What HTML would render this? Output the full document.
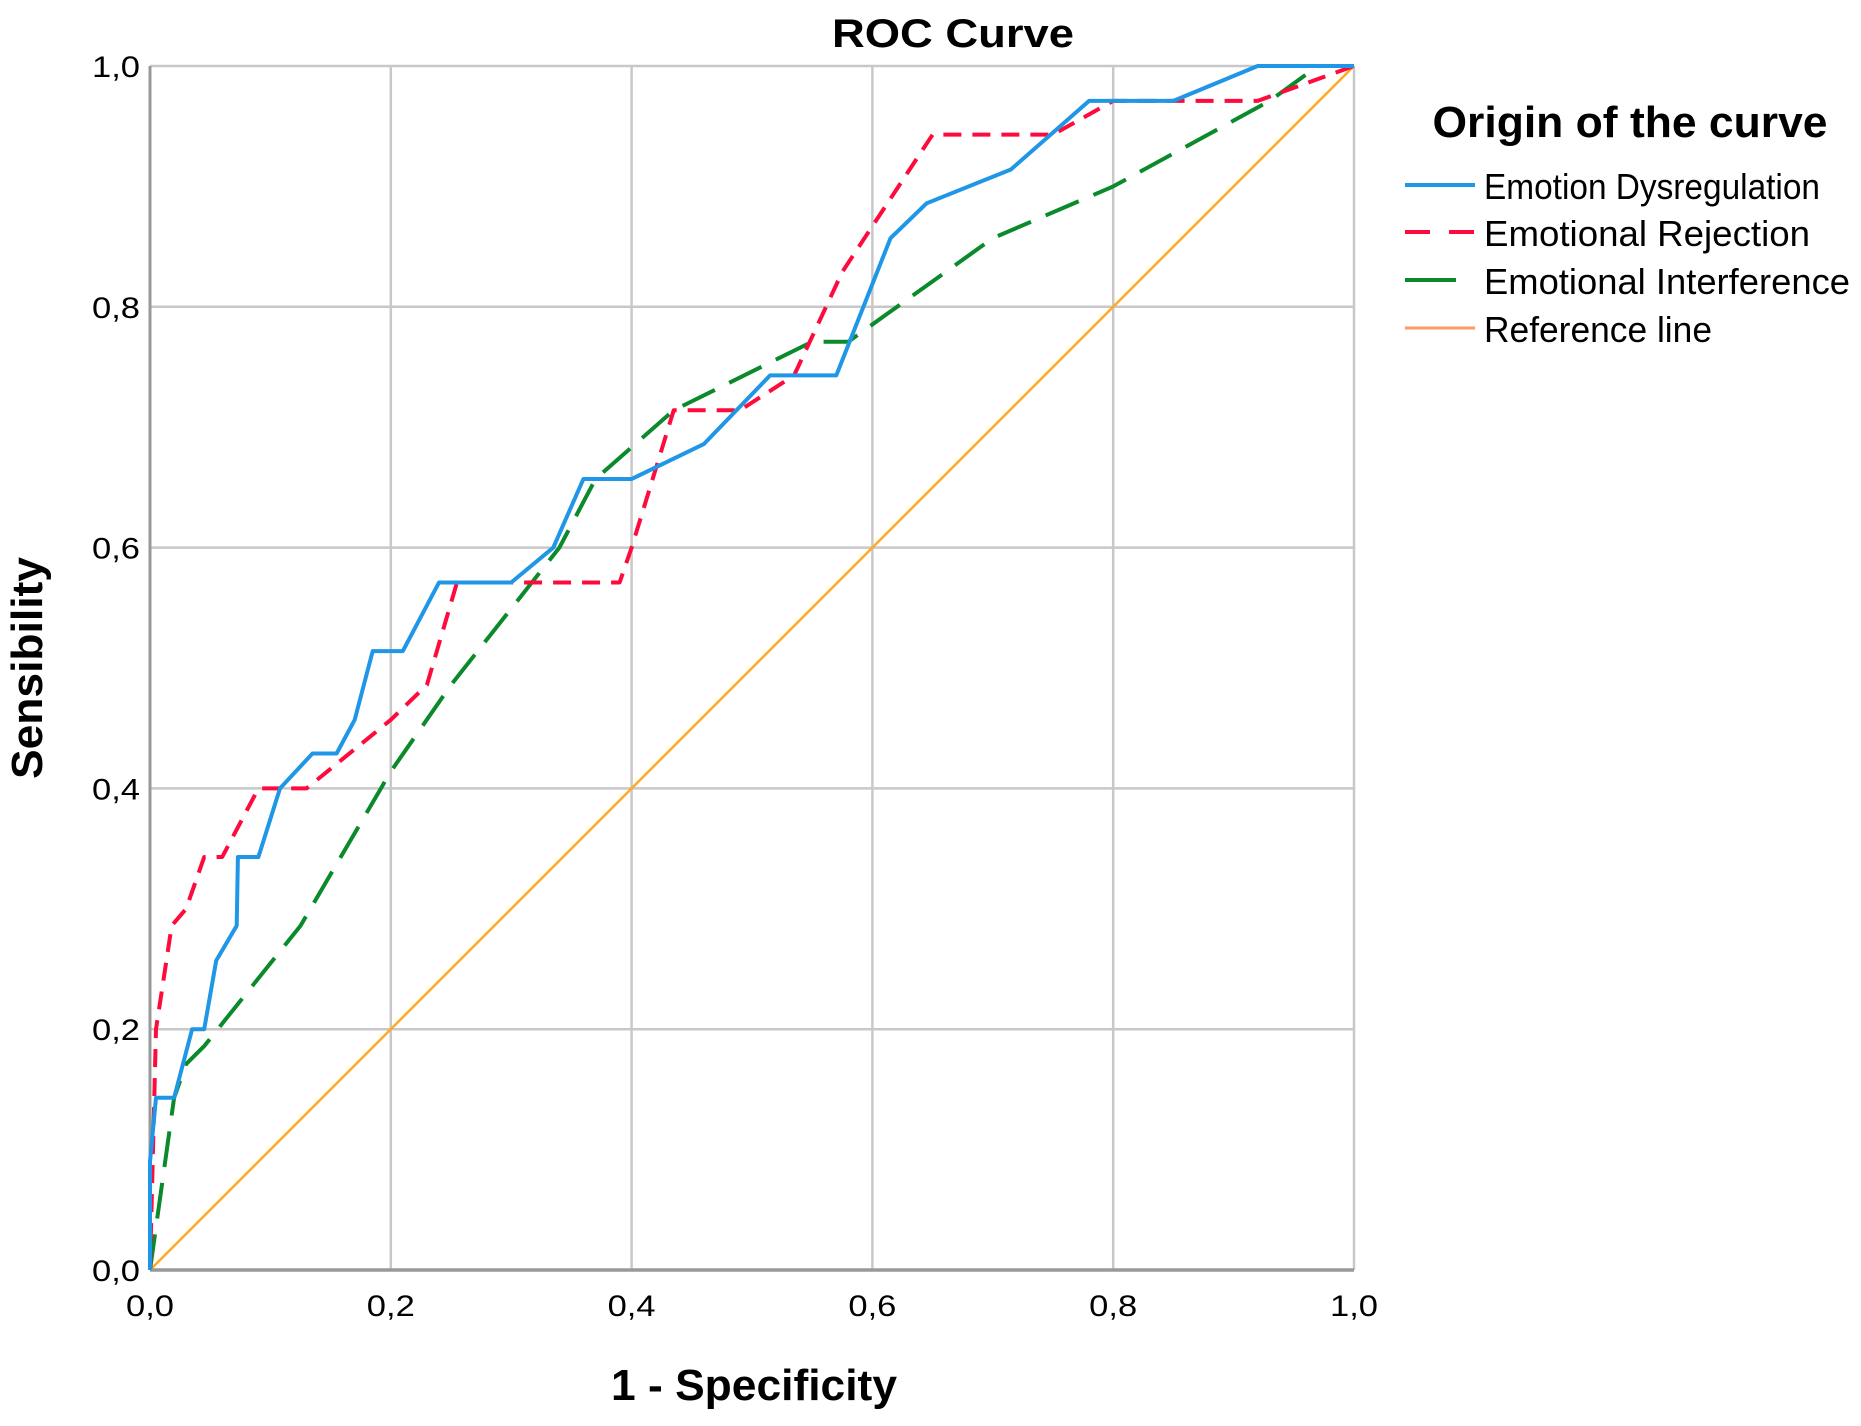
<!DOCTYPE html>
<html><head><meta charset="utf-8"><style>
html,body{margin:0;padding:0;background:#fff;}
svg{display:block;font-family:"Liberation Sans",sans-serif;}
</style></head><body>
<svg id="chart" width="1861" height="1426" viewBox="0 0 1861 1426">
<text x="953" y="47" text-anchor="middle" font-size="40" font-weight="bold" textLength="242" lengthAdjust="spacingAndGlyphs">ROC Curve</text>
<g id="grid"></g>
<g id="series"></g>
<g id="ticks"></g>
<text x="754" y="1400" text-anchor="middle" font-size="44" font-weight="bold" textLength="286" lengthAdjust="spacingAndGlyphs">1 - Specificity</text>
<text transform="translate(42,668) rotate(-90)" text-anchor="middle" font-size="44" font-weight="bold" textLength="222" lengthAdjust="spacingAndGlyphs">Sensibility</text>
<g>
<text x="1630" y="137" text-anchor="middle" font-size="44" font-weight="bold" textLength="395" lengthAdjust="spacingAndGlyphs">Origin of the curve</text>
<g><line x1="1405" y1="185" x2="1475" y2="185" stroke="#1f96e6" stroke-width="4"/><text x="1484" y="199" font-size="36" textLength="336" lengthAdjust="spacingAndGlyphs">Emotion Dysregulation</text></g>
<g><line x1="1405" y1="232" x2="1475" y2="232" stroke="#ff0a3c" stroke-width="4" stroke-dasharray="25,19"/><text x="1484" y="246" font-size="36" textLength="326" lengthAdjust="spacingAndGlyphs">Emotional Rejection</text></g>
<g><line x1="1405" y1="280" x2="1456" y2="280" stroke="#0a8a2a" stroke-width="4"/><text x="1484" y="294" font-size="36" textLength="366" lengthAdjust="spacingAndGlyphs">Emotional Interference</text></g>
<g><line x1="1405" y1="328" x2="1475" y2="328" stroke="#ff9966" stroke-width="3"/><text x="1484" y="342" font-size="36" textLength="228" lengthAdjust="spacingAndGlyphs">Reference line</text></g>
</g>
</svg>
<script>
const tickValues=[0,0.2,0.4,0.6,0.8,1.0];
const tickLabels=["0,0","0,2","0,4","0,6","0,8","1,0"];
const dysX=[0,0,0.005,0.02,0.035,0.045,0.055,0.072,0.073,0.09,0.108,0.135,0.155,0.17,0.185,0.21,0.24,0.3,0.335,0.36,0.4,0.46,0.515,0.57,0.615,0.645,0.715,0.78,0.85,0.92,1];
const dysY=[0,0.09,0.143,0.143,0.2,0.2,0.257,0.286,0.343,0.343,0.4,0.429,0.429,0.457,0.514,0.514,0.571,0.571,0.6,0.657,0.657,0.686,0.743,0.743,0.857,0.886,0.914,0.971,0.971,1,1];
const rejX=[0,0.005,0.018,0.03,0.045,0.06,0.09,0.13,0.2,0.23,0.255,0.39,0.4,0.435,0.49,0.535,0.575,0.65,0.75,0.8,0.92,1];
const rejY=[0,0.2,0.286,0.3,0.343,0.343,0.4,0.4,0.457,0.486,0.571,0.571,0.6,0.714,0.714,0.743,0.829,0.943,0.943,0.971,0.971,1];
const intX=[0,0.02,0.03,0.045,0.125,0.2,0.25,0.34,0.37,0.435,0.55,0.58,0.7,0.8,0.93,0.97,1];
const intY=[0,0.143,0.171,0.186,0.286,0.414,0.486,0.6,0.657,0.714,0.771,0.771,0.857,0.9,0.971,1,1];
const refX=[0,1], refY=[0,1];
const L=150,R=1354,T=66,B=1270;
const sx=v=>L+v*(R-L), sy=v=>B-v*(B-T);
const NS="http://www.w3.org/2000/svg";
function mk(tag,attrs,parent){const e=document.createElementNS(NS,tag);for(const k in attrs)e.setAttribute(k,attrs[k]);parent.appendChild(e);return e;}
const grid=document.getElementById('grid'),ticks=document.getElementById('ticks'),series=document.getElementById('series');
tickValues.forEach((v,i)=>{
 const gv=mk('line',{x1:sx(v),x2:sx(v),y1:T,y2:B,stroke:'#c8c8c8','stroke-width':2.5},grid);
 
 
 const gh=mk('line',{x1:L,x2:R,y1:sy(v),y2:sy(v),stroke:'#c8c8c8','stroke-width':2.5},grid);
 
 
 const tx=mk('text',{x:sx(v),y:B+46,'text-anchor':'middle','font-size':30,textLength:48,lengthAdjust:'spacingAndGlyphs'},ticks);tx.textContent=tickLabels[i];
 
 
 const ty=mk('text',{x:L-10,y:sy(v)+11,'text-anchor':'end','font-size':30,textLength:48,lengthAdjust:'spacingAndGlyphs'},ticks);ty.textContent=tickLabels[i];
 
 
});
const ax1=mk('line',{x1:L,x2:L,y1:T,y2:B,stroke:'#999','stroke-width':3},grid);


const ax2=mk('line',{x1:L,x2:R,y1:B,y2:B,stroke:'#999','stroke-width':3.5},grid);


function line(xs,ys,color,w,dash,name){
 const d=xs.map((x,i)=>(i?'L':'M')+sx(x).toFixed(1)+','+sy(ys[i]).toFixed(1)).join(' ');
 const p=mk('path',{d:d,fill:'none',stroke:color,'stroke-width':w,'stroke-linejoin':'round'},series);
 if(dash)p.setAttribute('stroke-dasharray',dash);
 
 
}
line(refX,refY,'#ffaa1f',2.5,null,'reference-line');
line(intX,intY,'#0a8a2a',4,'36,16','emotional-interference-line');
line(rejX,rejY,'#ff0a3c',4,'18,11','emotional-rejection-line');
line(dysX,dysY,'#1f96e6',4,null,'emotion-dysregulation-line');
</script>
</body></html>
